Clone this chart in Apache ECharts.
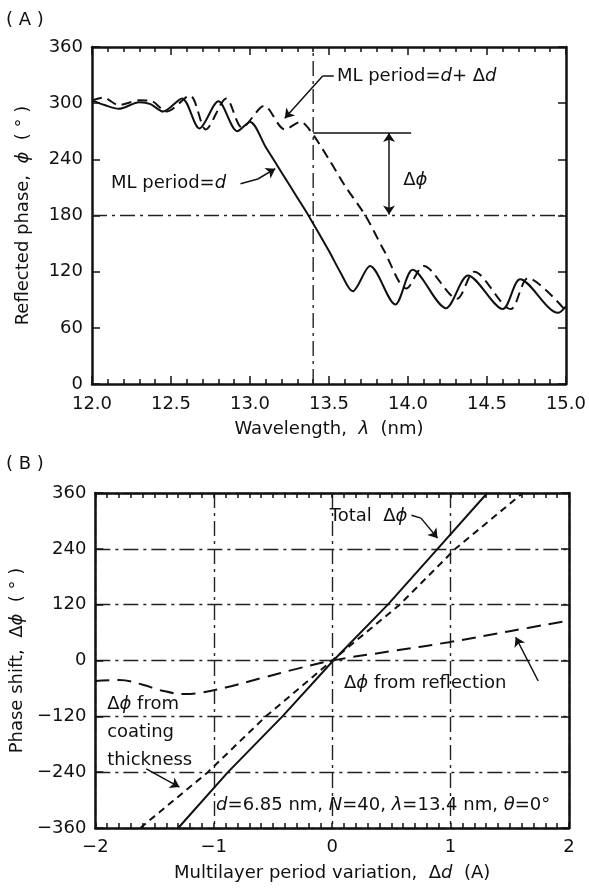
<!DOCTYPE html>
<html>
<head>
<meta charset="utf-8">
<script src="https://cdn.jsdelivr.net/npm/echarts@6/dist/echarts.min.js"></script>
<style>
  html, body { margin: 0; padding: 0; background: #fff; }
  #main { width: 589px; height: 892px; }
</style>
</head>
<body>
<div id="main"></div>
<script>
// ---- panel (A): reflected phase vs wavelength ----
var lambdaRange = [12.0, 15.0];
var phaseRangeA = [0, 360];
// ML period = d  (solid)
var periodD = [
  [12.0, 303], [12.08, 298], [12.17, 294], [12.30, 301], [12.37, 299], [12.45, 291],
  [12.57, 305], [12.68, 273], [12.80, 302], [12.92, 270], [13.0, 280], [13.1, 253],
  [13.2, 226], [13.3, 199], [13.37, 180], [13.5, 142], [13.57, 120], [13.65, 99],
  [13.76, 126], [13.92, 85], [14.03, 122], [14.24, 81], [14.38, 116], [14.60, 80],
  [14.71, 112], [14.95, 76], [15.0, 83]
];
// ML period = d + delta d  (dashed)
var periodDPlus = [
  [12.0, 303], [12.07, 306], [12.17, 298], [12.30, 303], [12.38, 302], [12.47, 291],
  [12.62, 308], [12.72, 272], [12.85, 305], [12.95, 274], [13.09, 297], [13.22, 272],
  [13.32, 280], [13.38, 271], [13.5, 240], [13.6, 212], [13.73, 180], [13.85, 142],
  [13.99, 102], [14.10, 126], [14.31, 91], [14.42, 120], [14.65, 80], [14.76, 113],
  [15.0, 78]
];
var guideLambda = [[13.4, 0], [13.4, 360]];
var guidePhase = [[12.0, 180], [15.0, 180]];

// ---- panel (B): phase shift vs period variation ----
var periodVarRange = [-2, 2];
var shiftRange = [-360, 360];
var totalShift = [[-1.30, -360], [-0.88, -240], [-0.42, -120], [0.01, 0], [0.47, 120], [0.89, 240], [1.31, 360]];
var coatingShift = [[-1.62, -360], [-1.05, -240], [-0.56, -120], [0, 0], [0.57, 120], [1.04, 240], [1.61, 360]];
var reflectionShift = [
  [-2.0, -44], [-1.8, -42], [-1.6, -52], [-1.45, -64], [-1.25, -72], [-1.1, -69],
  [-0.9, -58], [-0.6, -38], [-0.3, -18], [0, 0], [0.5, 20], [1.0, 40], [1.5, 63], [2.0, 86]
];

var FONT = 'DejaVu Sans';
var INK = '#111';
var PHI = '\u03D5';
var rich = {
  t: { fontFamily: FONT, fontSize: 18, color: INK },
  i: { fontFamily: FONT, fontSize: 18, color: INK, fontStyle: 'italic' }
};
var dashDot = [15, 5, 3, 5];

function minus(v) { return String(v).replace('-', '\u2212'); }

function frameAxis(base, extra) {
  return Object.assign({
    type: 'value',
    axisLine: { show: true, onZero: false, lineStyle: { color: INK, width: 2.5 } },
    axisTick: { show: true, inside: true, length: 8, lineStyle: { color: INK, width: 1.5 } },
    axisLabel: { show: false },
    splitLine: { show: false }
  }, base, extra);
}

// text label at a data coordinate
function note(name, xi, yi, pt, fmt) {
  return {
    name: name, type: 'scatter', xAxisIndex: xi, yAxisIndex: yi,
    symbolSize: 0, silent: true, data: [pt],
    itemStyle: { opacity: 1 },
    label: { show: true, position: 'right', distance: 0, formatter: fmt, rich: rich,
      color: INK, opacity: 1, lineHeight: 28 }
  };
}

function arrows(xi, yi, segs) {
  return {
    type: 'line', xAxisIndex: xi, yAxisIndex: yi, data: [], silent: true,
    markLine: {
      silent: true, symbolSize: 9, label: { show: false },
      lineStyle: { color: INK, width: 1.5, type: 'solid', opacity: 1 },
      data: segs.map(function (s) {
        return [{ coord: s[0], symbol: s[2] ? 'arrow' : 'none' },
                { coord: s[1], symbol: s[3] ? 'arrow' : 'none' }];
      })
    }
  };
}

var chart = echarts.init(document.getElementById('main'));
chart.setOption({
  animation: false,
  backgroundColor: '#fff',
  graphic: [
    { type: 'text', left: 6, top: 11, style: { text: '( A )', font: '18px "DejaVu Sans"', fill: INK } },
    { type: 'text', left: 6, top: 455, style: { text: '( B )', font: '18px "DejaVu Sans"', fill: INK } }
  ],
  grid: [
    { left: 92, top: 47, right: 20, height: 337 },
    { left: 92, top: 493, right: 20, height: 335 }
  ],
  xAxis: [
    frameAxis({ gridIndex: 0, position: 'bottom', min: lambdaRange[0], max: lambdaRange[1], interval: 0.5,
      minorTick: { show: true, splitNumber: 5, length: 5, lineStyle: { color: INK, width: 1.5 } },
      axisLabel: { show: true, margin: 11, fontFamily: FONT, fontSize: 18, color: INK,
        formatter: function (v) { return v.toFixed(1); } },
      name: '{t|Wavelength,  }{i|λ}{t|  (nm)}', nameLocation: 'middle', nameGap: 36,
      nameTextStyle: { rich: rich } }),
    frameAxis({ gridIndex: 0, position: 'top', min: lambdaRange[0], max: lambdaRange[1], interval: 0.5,
      minorTick: { show: true, splitNumber: 5, length: 5, lineStyle: { color: INK, width: 1.5 } } }),
    frameAxis({ gridIndex: 1, position: 'bottom', min: periodVarRange[0], max: periodVarRange[1], interval: 1,
      axisTick: { show: true, inside: true, length: 5, lineStyle: { color: INK, width: 1.5 } },
      minorTick: { show: true, splitNumber: 10, length: 5, lineStyle: { color: INK, width: 1.5 } },
      axisLabel: { show: true, margin: 10, fontFamily: FONT, fontSize: 18, color: INK, formatter: minus },
      splitLine: { show: true, lineStyle: { color: '#222', width: 1.4, type: dashDot } },
      name: '{t|Multilayer period variation,  Δ}{i|d}{t|  (A)}', nameLocation: 'middle', nameGap: 36,
      nameTextStyle: { rich: rich } }),
    frameAxis({ gridIndex: 1, position: 'top', min: periodVarRange[0], max: periodVarRange[1], interval: 1,
      axisTick: { show: true, inside: true, length: 5, lineStyle: { color: INK, width: 1.5 } },
      minorTick: { show: true, splitNumber: 10, length: 5, lineStyle: { color: INK, width: 1.5 } } })
  ],
  yAxis: [
    frameAxis({ gridIndex: 0, position: 'left', min: phaseRangeA[0], max: phaseRangeA[1], interval: 60,
      axisLabel: { show: true, margin: 9, fontFamily: FONT, fontSize: 18, color: INK },
      name: '{t|Reflected phase,  }{i|' + PHI + '}{t|  ( ° )}', nameLocation: 'middle', nameGap: 60, nameRotate: 90,
      nameTextStyle: { rich: rich } }),
    frameAxis({ gridIndex: 0, position: 'right', min: phaseRangeA[0], max: phaseRangeA[1], interval: 60 }),
    frameAxis({ gridIndex: 1, position: 'left', min: shiftRange[0], max: shiftRange[1], interval: 120,
      axisLabel: { show: true, margin: 9, fontFamily: FONT, fontSize: 18, color: INK, formatter: minus },
      splitLine: { show: true, lineStyle: { color: '#222', width: 1.4, type: dashDot } },
      name: '{t|Phase shift,  Δ}{i|' + PHI + '}{t|  ( ° )}', nameLocation: 'middle', nameGap: 58, nameRotate: 90,
      nameTextStyle: { rich: rich } }),
    frameAxis({ gridIndex: 1, position: 'right', min: shiftRange[0], max: shiftRange[1], interval: 120 })
  ],
  series: [
    // panel A guides
    { type: 'line', xAxisIndex: 0, yAxisIndex: 0, data: guideLambda, symbol: 'none',
      lineStyle: { color: '#222', width: 1.4, type: dashDot } },
    { type: 'line', xAxisIndex: 0, yAxisIndex: 0, data: guidePhase, symbol: 'none',
      lineStyle: { color: '#222', width: 1.4, type: dashDot } },
    // panel A curves
    { name: 'ML period = d', type: 'line', xAxisIndex: 0, yAxisIndex: 0, data: periodD,
      symbol: 'none', smooth: 0.3, lineStyle: { color: INK, width: 2 } },
    { name: 'ML period = d + Δd', type: 'line', xAxisIndex: 0, yAxisIndex: 0, data: periodDPlus,
      symbol: 'none', smooth: 0.3, lineStyle: { color: INK, width: 2, type: [10, 6] } },
    // panel B curves
    { name: 'Total Δφ', type: 'line', xAxisIndex: 2, yAxisIndex: 2, data: totalShift,
      symbol: 'none', lineStyle: { color: INK, width: 2 } },
    { name: 'Δφ from coating thickness', type: 'line', xAxisIndex: 2, yAxisIndex: 2, data: coatingShift,
      symbol: 'none', lineStyle: { color: INK, width: 2, type: [7, 5] } },
    { name: 'Δφ from reflection', type: 'line', xAxisIndex: 2, yAxisIndex: 2, data: reflectionShift,
      symbol: 'none', smooth: 0.4, lineStyle: { color: INK, width: 2, type: [14, 8] } },
    // panel A annotations
    arrows(0, 0, [
      [[13.53, 329], [13.46, 329], false, false],
      [[13.46, 329], [13.22, 284], false, true],
      [[12.94, 214], [13.05, 219], false, false],
      [[13.05, 219], [13.16, 230], false, true],
      [[13.4, 268], [14.02, 268], false, false],
      [[13.88, 268], [13.88, 181], true, true]
    ]),
    note('a1', 0, 0, [13.55, 329], '{t|ML period=}{i|d}{t|+ Δ}{i|d}'),
    note('a2', 0, 0, [12.12, 214], '{t|ML period=}{i|d}'),
    note('a3', 0, 0, [13.97, 218], '{t|Δ}{i|' + PHI + '}'),
    // panel B annotations
    arrows(2, 2, [
      [[0.67, 312], [0.75, 306], false, false],
      [[0.75, 306], [0.89, 263], false, true],
      [[1.74, -44], [1.55, 50], false, true],
      [[-1.57, -233], [-1.29, -272], false, true]
    ]),
    note('b1', 2, 2, [-0.02, 309], '{t|Total  Δ}{i|' + PHI + '}'),
    note('b2', 2, 2, [0.1, -49], '{t|Δ}{i|' + PHI + '}{t| from reflection}'),
    note('b3', 2, 2, [-1.9, -155], '{t|Δ}{i|' + PHI + '}{t| from}\n{t|coating}\n{t|thickness}'),
    note('b4', 2, 2, [-0.98, -311], '{i|d}{t|=6.85 nm, }{i|N}{t|=40, }{i|λ}{t|=13.4 nm, }{i|θ}{t|=0°}')
  ]
});
</script>
</body>
</html>
